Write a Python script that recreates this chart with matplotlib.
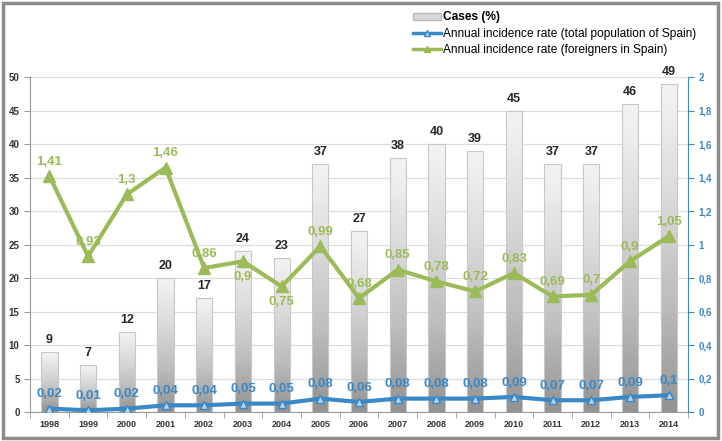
import numpy as np
import matplotlib.pyplot as plt
from matplotlib.patches import Rectangle
from matplotlib.lines import Line2D
from matplotlib.patches import Patch

plt.rcParams['font.family'] = ['Liberation Sans', 'DejaVu Sans']

years = ['1998', '1999', '2000', '2001', '2002', '2003', '2004', '2005', '2006',
         '2007', '2008', '2009', '2010', '2011', '2012', '2013', '2014']
cases = [9, 7, 12, 20, 17, 24, 23, 37, 27, 38, 40, 39, 45, 37, 37, 46, 49]
rate_total = [0.02, 0.01, 0.02, 0.04, 0.04, 0.05, 0.05, 0.08, 0.06,
              0.08, 0.08, 0.08, 0.09, 0.07, 0.07, 0.09, 0.1]
rate_foreign = [1.41, 0.93, 1.3, 1.46, 0.86, 0.9, 0.75, 0.99, 0.68,
                0.85, 0.78, 0.72, 0.83, 0.69, 0.7, 0.9, 1.05]

blue = '#3a88c5'
green = '#9bbb59'

fig = plt.figure(figsize=(7.22, 4.41), dpi=100)
# outer frame
fig.patches.append(Rectangle((0.004, 0.006), 0.99, 0.988, transform=fig.transFigure,
                             fill=False, edgecolor='#8c8c8c', linewidth=2.5))

ax = fig.add_axes([0.0416, 0.0658, 0.9114, 0.7592])
x = np.arange(len(years))
w = 0.42

ax.set_xlim(-0.5, len(years) - 0.5)
ax.set_ylim(0, 50)
ax.set_yticks(range(0, 51, 5))
ax.yaxis.grid(True, color='#dcdcdc', linewidth=0.9)
ax.set_axisbelow(True)

grad = np.linspace(0, 1, 100).reshape(-1, 1)
for xi, c in zip(x, cases):
    rect = Rectangle((xi - w / 2, 0), w, c, facecolor='none', edgecolor='#c8c8c8',
                     linewidth=0.8, zorder=3)
    ax.add_patch(rect)
    im = ax.imshow(grad, cmap='Greys', vmin=-0.25, vmax=2.2, aspect='auto',
                   extent=(xi - w / 2, xi + w / 2, 0, c), origin='upper', zorder=2)
    im.set_clip_path(rect)
    ax.text(xi, c + 0.9, str(c), ha='center', va='bottom', fontsize=9,
            fontweight='bold', color='#262626', zorder=5)
ax.set_xlim(-0.5, len(years) - 0.5)
ax.set_ylim(0, 50)

ax.set_xticks(x)
ax.set_xticklabels(years, fontsize=6.5, fontweight='bold', color='#333333')
ax.set_xticks(np.arange(-0.5, len(years), 1), minor=True)
ax.tick_params(axis='x', which='major', length=0, pad=6)
ax.tick_params(axis='x', which='minor', length=4, color='#999999')
ax.tick_params(axis='y', length=4, color='#999999', labelsize=7, labelcolor='#333333')
for lab in ax.get_yticklabels():
    lab.set_fontweight('bold')
for s in ['top', 'right']:
    ax.spines[s].set_visible(False)
ax.spines['left'].set_color('#999999')
ax.spines['bottom'].set_color('#999999')

ax2 = ax.twinx()
ax2.set_ylim(0, 2)
right_ticks = np.arange(0, 2.01, 0.2)
ax2.set_yticks(right_ticks)
ax2.set_yticklabels([f'{v:g}'.replace('.', ',') for v in np.round(right_ticks, 1)])
ax2.tick_params(axis='y', length=4, color=blue, labelsize=7, labelcolor=blue)
for lab in ax2.get_yticklabels():
    lab.set_fontweight('bold')
for s in ['top', 'left', 'bottom']:
    ax2.spines[s].set_visible(False)
ax2.spines['right'].set_color(blue)

ax2.plot(x, rate_total, color=blue, linewidth=3, marker='^', markersize=6,
         markerfacecolor='#b8d4ec', markeredgecolor=blue, markeredgewidth=1, zorder=4)
ax2.plot(x, rate_foreign, color=green, linewidth=3, marker='^', markersize=8,
         markerfacecolor=green, markeredgecolor=green, zorder=4)

def fmt(v):
    s = f'{v:.2f}'.rstrip('0').rstrip('.')
    return s.replace('.', ',')

for xi, v in zip(x, rate_total):
    ax2.text(xi, v + 0.05, fmt(v), ha='center', va='bottom', fontsize=9.5,
             fontweight='bold', color=blue, zorder=6)
below = {5, 6}
for xi, v in zip(x, rate_foreign):
    if xi in below:
        ax2.text(xi, v - 0.06, fmt(v), ha='center', va='top', fontsize=9.5,
                 fontweight='bold', color=green, zorder=6)
    else:
        ax2.text(xi, v + 0.05, fmt(v), ha='center', va='bottom', fontsize=9.5,
                 fontweight='bold', color=green, zorder=6)

handles = [
    Patch(facecolor='#d9d9d9', edgecolor='#bbbbbb'),
    Line2D([], [], color=blue, linewidth=2.5, marker='^', markersize=5,
           markerfacecolor='#b8d4ec', markeredgecolor=blue),
    Line2D([], [], color=green, linewidth=2.5, marker='^', markersize=5,
           markerfacecolor=green, markeredgecolor=green),
]
labels = ['Cases (%)', 'Annual incidence rate (total population of Spain)',
          'Annual incidence rate (foreigners in Spain)']
leg = fig.legend(handles, labels, loc='upper left', bbox_to_anchor=(0.565, 0.985),
                 frameon=False, fontsize=8.6, handlelength=2.35, handleheight=0.5,
                 handletextpad=0.15, labelspacing=0.35, borderaxespad=0)
leg.get_texts()[0].set_fontweight('bold')

fig.savefig('out.png', dpi=100)
